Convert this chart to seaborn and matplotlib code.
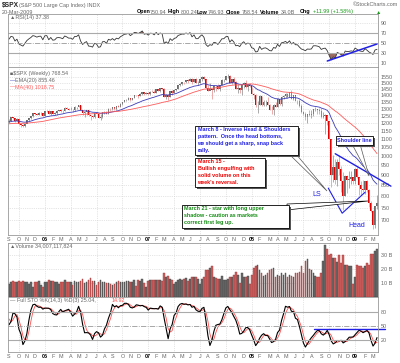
import numpy as np
import pandas as pd
import matplotlib
matplotlib.use("Agg")
import matplotlib.pyplot as plt
from matplotlib.patches import Rectangle, Polygon
from matplotlib.ticker import FixedLocator, NullLocator, FixedFormatter
import seaborn as sns

# weekly $SPX from Nov 2004 to 20 Mar 2009; the weeks before Sep 2005 only warm up the indicators
start_week = "2004-11-05"
first_open = 1130
first_shown = 43

closes = [1167, 1184, 1170, 1183, 1191, 1189, 1194, 1210, 1212,
          1186, 1184, 1168, 1171, 1203, 1205, 1201, 1211, 1222, 1200, 1190, 1172,
          1172, 1182, 1143, 1152, 1156, 1172, 1154, 1189, 1198, 1197, 1201, 1217, 1191,
          1211, 1212, 1228, 1229, 1234, 1226, 1230, 1220, 1205, 1218, 1241, 1238, 1215, 1229,
          1196, 1187, 1179, 1198, 1220, 1235, 1248, 1268, 1265, 1259, 1267, 1268, 1248,
          1285, 1287, 1261, 1283, 1264, 1267, 1287, 1289, 1287, 1282, 1307, 1302, 1295,
          1295, 1289, 1311, 1311, 1325, 1291, 1267, 1280, 1288, 1253, 1251, 1244, 1270,
          1265, 1236, 1240, 1278, 1280, 1266, 1302, 1296, 1311, 1299, 1319, 1314, 1336,
          1349, 1365, 1368, 1377, 1364, 1380, 1401, 1400, 1396, 1409, 1427, 1410, 1418,
          1410, 1431, 1430, 1423, 1449, 1438, 1456, 1451, 1387, 1402, 1386, 1437, 1421,
          1444, 1453, 1484, 1495, 1506, 1505, 1522, 1515, 1536, 1507, 1533, 1503, 1503,
          1531, 1553, 1534, 1459, 1433, 1453, 1445, 1479, 1474, 1454, 1484, 1525, 1527,
          1557, 1562, 1501, 1535, 1509, 1453, 1458, 1440, 1481, 1504, 1468, 1484, 1478,
          1411, 1401, 1325, 1330, 1396, 1331, 1349, 1353, 1331, 1294, 1288, 1330, 1316,
          1370, 1332, 1390, 1398, 1414, 1389, 1426, 1375, 1400, 1361, 1360, 1318, 1278,
          1263, 1240, 1261, 1257, 1260, 1297, 1298, 1293, 1283, 1242, 1252, 1255, 1213,
          1099, 899, 940, 877, 968, 930, 873, 800, 896, 876, 879, 888, 873,
          932, 890, 850, 832, 826, 869, 827, 770, 735, 683, 756, 768.54]

highs = [1168, 1185, 1188, 1186, 1197, 1192, 1206, 1211, 1217,
         1218, 1195, 1190, 1176, 1204, 1208, 1212, 1212, 1225, 1230, 1201, 1190,
         1189, 1191, 1187, 1162, 1157, 1178, 1180, 1192, 1199, 1205, 1206, 1220, 1219,
         1212, 1213, 1229, 1236, 1238, 1245, 1237, 1234, 1221, 1228, 1243, 1243, 1238, 1233,
         1233, 1198, 1197, 1204, 1224, 1235, 1249, 1269, 1273, 1272, 1275, 1275, 1270,
         1287, 1295, 1290, 1286, 1287, 1275, 1291, 1294, 1297, 1288, 1310, 1311, 1306,
         1310, 1297, 1318, 1316, 1327, 1326, 1294, 1282, 1290, 1290, 1258, 1259, 1272,
         1280, 1270, 1261, 1280, 1283, 1284, 1303, 1304, 1312, 1315, 1322, 1328, 1340,
         1350, 1366, 1372, 1389, 1382, 1384, 1403, 1407, 1403, 1416, 1431, 1428, 1427,
         1430, 1435, 1441, 1441, 1452, 1453, 1457, 1461, 1459, 1408, 1410, 1438, 1440,
         1445, 1453, 1484, 1498, 1511, 1513, 1523, 1530, 1540, 1539, 1538, 1540, 1518,
         1534, 1556, 1556, 1537, 1488, 1503, 1454, 1480, 1480, 1491, 1488, 1538, 1530,
         1561, 1576, 1566, 1536, 1552, 1520, 1492, 1460, 1488, 1510, 1523, 1485, 1500,
         1471, 1421, 1412, 1355, 1405, 1396, 1368, 1367, 1388, 1336, 1321, 1333, 1352,
         1381, 1375, 1395, 1400, 1422, 1416, 1427, 1440, 1406, 1407, 1367, 1371, 1333,
         1285, 1276, 1262, 1292, 1288, 1297, 1313, 1300, 1303, 1304, 1274, 1265, 1255,
         1214, 1097, 1008, 985, 985, 1007, 946, 917, 897, 897, 918, 918, 890,
         934, 943, 891, 871, 877, 870, 875, 835, 780, 740, 758, 804]

lows = [1128, 1160, 1169, 1167, 1174, 1173, 1187, 1192, 1205,
        1183, 1175, 1167, 1163, 1171, 1198, 1198, 1184, 1208, 1198, 1185, 1163,
        1170, 1169, 1142, 1137, 1137, 1155, 1146, 1154, 1186, 1190, 1192, 1199, 1190,
        1188, 1194, 1210, 1219, 1224, 1225, 1220, 1216, 1203, 1201, 1215, 1227, 1205, 1214,
        1191, 1176, 1178, 1175, 1199, 1216, 1229, 1245, 1255, 1256, 1254, 1256, 1247,
        1246, 1279, 1260, 1258, 1262, 1253, 1259, 1283, 1276, 1269, 1281, 1298, 1291,
        1294, 1280, 1284, 1301, 1310, 1290, 1259, 1245, 1259, 1250, 1219, 1238, 1234,
        1262, 1234, 1225, 1238, 1265, 1261, 1265, 1287, 1294, 1291, 1295, 1310, 1312,
        1327, 1348, 1356, 1362, 1360, 1363, 1378, 1397, 1377, 1395, 1405, 1407, 1409,
        1403, 1406, 1426, 1416, 1420, 1437, 1430, 1445, 1386, 1374, 1363, 1385, 1406,
        1420, 1432, 1449, 1473, 1482, 1490, 1498, 1500, 1515, 1490, 1506, 1500, 1484,
        1502, 1520, 1528, 1451, 1433, 1440, 1371, 1430, 1433, 1452, 1439, 1481, 1506,
        1523, 1546, 1500, 1490, 1492, 1450, 1420, 1416, 1406, 1460, 1463, 1435, 1465,
        1411, 1370, 1312, 1270, 1325, 1320, 1321, 1317, 1330, 1290, 1264, 1257, 1312,
        1315, 1331, 1324, 1370, 1384, 1384, 1386, 1373, 1362, 1359, 1335, 1316, 1272,
        1257, 1225, 1200, 1248, 1234, 1247, 1283, 1261, 1263, 1236, 1233, 1133, 1187,
        1098, 840, 866, 858, 845, 899, 818, 742, 801, 815, 837, 857, 857,
        857, 883, 804, 804, 821, 812, 818, 754, 734, 667, 672, 747]

# weekly volume in billions, shown weeks only (2 Sep 2005 on)
volume_bn = [9.5, 10.5, 11.5, 11, 10.5, 11.5, 11, 11.5, 10.5, 10.5, 9.5, 10.5, 7, 11, 10.5, 11.5, 8.5, 7.5,
             10.5, 11, 12, 11.5, 11.5, 11, 11, 9.5, 11, 11, 12.5, 10.5, 11, 11, 8.5, 11.5, 11,
             11, 11.5, 13, 10, 10.5, 12, 13.5, 11.5, 11.5, 8.5, 11, 12, 11, 10.5, 10, 10, 9,
             8.5, 9.5, 11, 11.5, 10.5, 11, 11, 11.5, 11.5, 11, 11, 12, 8, 12, 11.5, 13, 10, 7.5,
             11.5, 12, 12, 12, 12.5, 12, 12, 11.5, 17, 14.5, 15, 13, 12, 9.5, 11, 12.5, 13,
             12.5, 13, 13.5, 11.5, 13, 14.5, 14, 14, 13, 9, 13, 14, 19, 19, 21, 22, 14, 13.5,
             13, 13, 15, 12, 12.5, 13, 14.5, 14.5, 16, 18, 16, 10, 17, 14, 14.5, 15, 9,
             16, 21, 22, 23, 19, 17, 15, 16, 17, 19, 20, 21, 14, 16, 15, 17, 16,
             17, 14.5, 16, 15, 14, 17, 17, 18, 22, 17, 26, 27, 20, 19, 17, 15, 14, 14,
             17, 26, 37, 34, 30, 31, 28, 28, 25, 30, 24, 30, 23, 23, 22, 22, 9,
             14, 23, 22, 22, 21, 22, 24, 23, 31, 31, 33, 34]

rsi_ticks = [10, 30, 50, 70, 90]
price_ticks = list(range(700, 1600, 50))
volume_ticks = [10, 20, 30]
sto_ticks = [20, 50, 80]

# hand drawn trend lines (week number from Sep 2005, value)
shoulder_line = [(164, 1013), (192, 846)]
head_shoulders = [(160.5, 837), (167.5, 728), (179, 818)]
rsi_trend = [(160, 14), (185, 48)]
sto_level = [(153.5, 43.6), (189, 43.6)]

BLUE = "#1f1fe6"
GRAY = "#666666"

sns.set_style("white")
plt.rcParams["font.family"] = ["Liberation Sans", "DejaVu Sans"]

W, H = 400, 363


def fx(x):
    return x / W


def fy(y):
    return 1 - y / H


df = pd.DataFrame({"date": pd.date_range(start_week, periods=len(closes), freq="W-FRI"),
                   "close": closes, "high": highs, "low": lows})
df["open"] = df["close"].shift(1).fillna(first_open)
df["ema20"] = df["close"].ewm(span=20, adjust=False).mean()
df["ma40"] = df["close"].rolling(40).mean()
chg = df["close"].diff()
gain = chg.clip(lower=0).ewm(alpha=1 / 14, adjust=False).mean()
loss = (-chg.clip(upper=0)).ewm(alpha=1 / 14, adjust=False).mean()
df["rsi"] = 100 - 100 / (1 + gain / loss)
lo14 = df["low"].rolling(14).min()
hi14 = df["high"].rolling(14).max()
fast_k = 100 * (df["close"] - lo14) / (hi14 - lo14)
df["k"] = fast_k.rolling(3).mean()
df["d"] = df["k"].rolling(3).mean()

vis = df.iloc[first_shown:].reset_index(drop=True)
vis["x"] = np.arange(len(vis))
vis["volume"] = volume_bn
vis["down"] = vis["close"] < vis["open"]

fig = plt.figure(figsize=(4, 3.63), dpi=100)
x0, x1 = 8, 378


def panel(top, bottom):
    return fig.add_axes([fx(x0), fy(bottom), (x1 - x0) / W, (bottom - top) / H])


ax_rsi = panel(14, 67)
ax_px = panel(67, 235)
ax_vol = panel(243, 297)
ax_sto = panel(297, 352)

# month ticks and quarter grid
months = vis["date"].dt.month
month_idx = list(vis.index[(months != months.shift(1))])
month_lab = []
for i in month_idx:
    dt = vis.loc[i, "date"]
    month_lab.append(f"{dt.year % 100:02d}" if dt.month == 1 else "JFMAMJJASOND"[dt.month - 1])
quarter_idx = [i for i in month_idx if vis.loc[i, "date"].month in (1, 4, 7, 10)]

for ax in (ax_rsi, ax_px, ax_vol, ax_sto):
    ax.set_xlim(-0.5, len(vis) - 0.5)
    for s in ax.spines.values():
        s.set_color("#999999")
        s.set_linewidth(0.6)
    ax.yaxis.tick_right()
    ax.tick_params(length=0, labelsize=3.9, labelcolor=GRAY, pad=2)
    for q in quarter_idx:
        ax.axvline(q, color="#cccccc", ls=":", lw=0.5, zorder=0)
    ax.set_xticks(month_idx)
    if ax in (ax_px, ax_sto):
        ax.set_xticklabels(month_lab)
        ax.tick_params(axis="x", pad=1.5)
        for t, s in zip(ax.get_xticklabels(), month_lab):
            if s.isdigit():
                t.set_fontweight("bold")
                t.set_color("black")
    else:
        ax.set_xticklabels([])

# RSI
sns.lineplot(data=vis, x="x", y="rsi", ax=ax_rsi, color="#333333", lw=0.6, legend=False)
ax_rsi.fill_between(vis["x"], vis["rsi"], 30, where=vis["rsi"] < 30, interpolate=True, color="#9b6b63", lw=0)
ax_rsi.fill_between(vis["x"], vis["rsi"], 70, where=vis["rsi"] > 70, interpolate=True, color="#9b6b63", lw=0)
ax_rsi.axhline(70, color="#aaaaaa", lw=0.8)
ax_rsi.axhline(30, color="#aaaaaa", lw=0.8)
ax_rsi.axhline(50, color="#999999", lw=0.6, ls="-.")
for v in (10, 90):
    ax_rsi.axhline(v, color="#cccccc", lw=0.5, ls=":")
ax_rsi.set_ylim(2, 108)
ax_rsi.set_yticks(rsi_ticks)
ax_rsi.set_xlabel("")
ax_rsi.set_ylabel("")
ax_rsi.plot(*zip(*rsi_trend), color=BLUE, lw=1.1, clip_on=False)

# price candles
up = vis[~vis["down"]]
dn = vis[vis["down"]]
ax_px.vlines(up["x"], up["low"], up["high"], color="#8a8a8a", lw=0.5)
ax_px.vlines(dn["x"], dn["low"], dn["high"], color="#e88a8a", lw=0.5)
ax_px.bar(up["x"], up["close"] - up["open"], bottom=up["open"], width=0.8, color="#6a6a6a", lw=0)
ax_px.bar(dn["x"], dn["open"] - dn["close"], bottom=dn["close"], width=0.8, color="#e00000", lw=0)
sns.lineplot(data=vis, x="x", y="ema20", ax=ax_px, color="#3a3ab8", lw=0.6, legend=False)
sns.lineplot(data=vis, x="x", y="ma40", ax=ax_px, color="#ff5a5a", lw=0.6, legend=False)
ax_px.set_yscale("log")
ax_px.set_ylim(645, 1640)
ax_px.yaxis.set_major_locator(FixedLocator(price_ticks))
ax_px.yaxis.set_major_formatter(FixedFormatter([str(v) for v in price_ticks]))
ax_px.yaxis.set_minor_locator(NullLocator())
ax_px.grid(axis="y", color="#cccccc", ls=":", lw=0.5)
ax_px.set_axisbelow(True)
ax_px.set_xlabel("")
ax_px.set_ylabel("")
ax_px.plot(*zip(*shoulder_line), color=BLUE, lw=1.0, clip_on=False, zorder=5)
ax_px.plot(*zip(*head_shoulders), color=BLUE, lw=0.8, zorder=5)

# volume
vcol = np.where(vis["down"], "#d06060", "#6a6a6a")
ecol = np.where(vis["down"], "#a03a3a", "#444444")
ax_vol.bar(vis["x"], vis["volume"], width=0.85, color=vcol, edgecolor=ecol, lw=0.3)
ax_vol.set_ylim(0, 38.6)
ax_vol.set_yticks(volume_ticks)
ax_vol.set_yticklabels([f"{v} B" for v in volume_ticks])
ax_vol.grid(axis="y", color="#cccccc", ls=":", lw=0.5)
ax_vol.set_axisbelow(True)

# full stochastics
sns.lineplot(data=vis, x="x", y="d", ax=ax_sto, color="#ff5050", lw=0.6, legend=False)
sns.lineplot(data=vis, x="x", y="k", ax=ax_sto, color="black", lw=0.8, legend=False)
ax_sto.axhline(80, color="#aaaaaa", lw=0.8)
ax_sto.axhline(20, color="#aaaaaa", lw=0.8)
ax_sto.axhline(50, color="#999999", lw=0.6, ls="-.")
ax_sto.set_ylim(-6, 112)
ax_sto.set_yticks(sto_ticks)
ax_sto.set_xlabel("")
ax_sto.set_ylabel("")
ax_sto.plot(*zip(*sto_level), color=BLUE, lw=1.0, clip_on=False)

# header
fig.text(fx(2), fy(5), "$SPX", fontsize=4.8, fontweight="bold", va="center")
fig.text(fx(19), fy(5), "(S&P 500 Large Cap Index) INDX", fontsize=3.9, color=GRAY, va="center")
fig.text(fx(2), fy(12), "20-Mar-2009", fontsize=3.9, color=GRAY, va="center")
fig.text(fx(398), fy(5), "\u00a9StockCharts.com", fontsize=3.9, color=GRAY, va="center", ha="right")
stats = [(137, "Open", "bold", "black"), (150, "750.94", "normal", GRAY),
         (168, "High", "bold", "black"), (181, "800.24", "normal", GRAY),
         (197, "Low", "bold", "black"), (208, "746.93", "normal", GRAY),
         (226, "Close", "bold", "black"), (242, "768.54", "normal", GRAY),
         (260, "Volume", "bold", "black"), (281, "34.0B", "normal", GRAY),
         (300, "Chg", "bold", "black"), (313, "+11.99 (+1.58%)", "normal", "#1a9a1a"),
         (376, "\u25b2", "normal", "#1a9a1a")]
for xp, s, wt, c in stats:
    fig.text(fx(xp), fy(12), s, fontsize=3.9, fontweight=wt, color=c, va="center")

# panel legends
fig.text(fx(10), fy(17.5), "\u25b2RSI(14) 37.38", fontsize=3.9, color=GRAY, va="center")
fig.text(fx(10), fy(74), "\u25a0$SPX (Weekly) 768.54", fontsize=3.9, color=GRAY, va="center")
fig.text(fx(10), fy(80.5), "\u2014", fontsize=3.9, color="#3a3ab8", va="center")
fig.text(fx(15), fy(80.5), "EMA(20) 855.46", fontsize=3.9, color=GRAY, va="center")
fig.text(fx(10), fy(87), "\u2014", fontsize=3.9, color="#ff5a5a", va="center")
fig.text(fx(15), fy(87), "MA(40) 1018.75", fontsize=3.9, color="#ff5a5a", va="center")
fig.text(fx(10), fy(245.5), "\u25b2Volume 34,007,117,824", fontsize=3.9, color=GRAY, va="center")
fig.text(fx(10), fy(300.5), "\u2014 Full STO %K(14,3) %D(3) 25.04,", fontsize=3.9, color=GRAY, va="center")
fig.text(fx(112), fy(300.5), "14.92", fontsize=3.9, color="#ff5050", va="center")


# callout boxes
def wedge(pts, ec, z=9):
    fig.add_artist(Polygon([(fx(a), fy(b)) for a, b in pts], closed=True, transform=fig.transFigure,
                           fc="white", ec=ec, lw=0.5, zorder=z))


def box(left, top, right, bottom, lines, color, size=3.9, center=False):
    w, h = (right - left) / W, (bottom - top) / H
    fig.add_artist(Rectangle((fx(left + 1.5), fy(bottom + 1.5)), w, h, transform=fig.transFigure,
                             fc="#555555", ec="none", zorder=10))
    fig.add_artist(Rectangle((fx(left), fy(bottom)), w, h, transform=fig.transFigure,
                             fc="white", ec="black", lw=0.6, zorder=11))
    for k, s in enumerate(lines):
        if center:
            fig.text(fx((left + right) / 2), fy((top + bottom) / 2), s, color=color, fontsize=size,
                     fontweight="bold", va="center", ha="center", zorder=12)
        else:
            fig.text(fx(left + 2.5), fy(top + 3.8 + 7 * k), s, color=color, fontsize=size,
                     fontweight="bold", va="center", zorder=12)


wedge([(289, 154), (296, 154), (327, 191)], "#555555")
wedge([(352, 144), (360, 144), (369, 176)], "#555555")
wedge([(287, 204), (287, 210), (368, 201)], "black")

box(195, 126, 298, 155, ["March 8 - Inverse Head & Shoulders", "pattern.  Once the head bottoms,",
                         "we should get a sharp, snap back", "rally."], BLUE)
box(195, 158, 265, 187, ["March 15 -", "Bullish engulfing with", "solid volume on this",
                         "week's reversal."], "#ee0000")
box(182, 205, 289, 228, ["March 21 - star with long upper", "shadow - caution as markets",
                         "correct first leg up."], "#138a13")
box(336, 136, 373, 145, ["Shoulder line"], BLUE, center=True)

fig.text(fx(312), fy(195), "LS", fontsize=5, color=BLUE, va="center", zorder=12)
fig.text(fx(348), fy(225), "Head", fontsize=5, color=BLUE, va="center", zorder=12)

fig.savefig("out.png", dpi=100)
